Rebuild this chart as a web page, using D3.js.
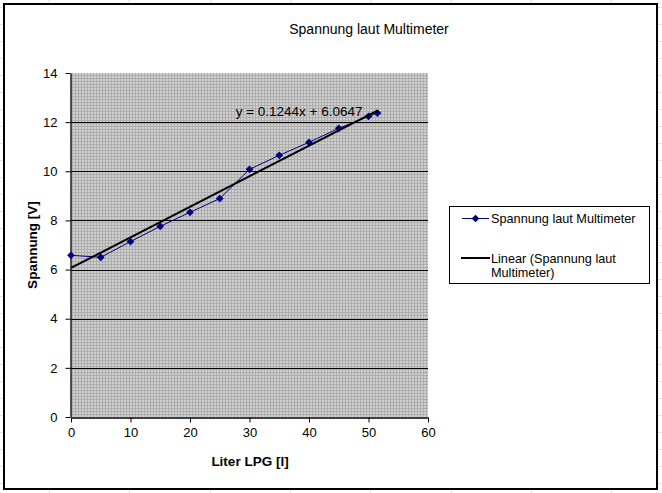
<!DOCTYPE html>
<html>
<head>
<meta charset="utf-8">
<script src="https://cdn.jsdelivr.net/npm/d3@7"></script>
<style>
  html, body { margin: 0; padding: 0; background: #fff; }
  svg { display: block; font-family: "Liberation Sans", Arial, sans-serif; }
</style>
</head>
<body>
<svg id="chart" width="662" height="493"></svg>
<script>
// measured values
const liters = [0, 5, 10, 15, 20, 25, 30, 35, 40, 45, 50, 51.5];
const voltage = [6.58, 6.50, 7.14, 7.76, 8.33, 8.89, 10.08, 10.65, 11.18, 11.75, 12.23, 12.37];

// linear trendline (as reported by the spreadsheet)
const trendSlope = 0.1244;
const trendIntercept = 6.0647;

const xTicks = [0, 10, 20, 30, 40, 50, 60];
const yTicks = [0, 2, 4, 6, 8, 10, 12, 14];
const gridValues = [2, 4, 6, 8, 10, 12];

const seriesName = "Spannung laut Multimeter";
const trendNameLines = ["Linear (Spannung laut", "Multimeter)"];

const width = 662;
const height = 493;
const plot = { left: 71, right: 428, top: 73, bottom: 417 };

const svg = d3.select("#chart");

// spreadsheet cell grid behind the chart object
const sheet = svg.append("g").attr("stroke", "#e3e3e3").attr("stroke-width", 1);
d3.range(49, width, 80.3).forEach(x => {
  sheet.append("line").attr("x1", Math.round(x) + 0.5).attr("x2", Math.round(x) + 0.5)
    .attr("y1", 0).attr("y2", height);
});
d3.range(7, height, 17).forEach(y => {
  sheet.append("line").attr("x1", 0).attr("x2", width)
    .attr("y1", Math.round(y) + 0.5).attr("y2", Math.round(y) + 0.5);
});

// chart area
svg.append("rect")
  .attr("x", 4).attr("y", 4)
  .attr("width", 653).attr("height", 485)
  .attr("fill", "#fff")
  .attr("stroke", "#000")
  .attr("stroke-width", 2);

// dotted gray plot background
const defs = svg.append("defs");
const pattern = defs.append("pattern")
  .attr("id", "dots")
  .attr("patternUnits", "userSpaceOnUse")
  .attr("width", 3)
  .attr("height", 3);
pattern.append("rect").attr("width", 3).attr("height", 3).attr("fill", "#d0d0d0");
pattern.append("rect").attr("width", 3).attr("height", 1).attr("fill", "#adadad");
pattern.append("rect").attr("width", 1).attr("height", 3).attr("fill", "#adadad");

const x = d3.scaleLinear().domain([0, 60]).range([plot.left, plot.right]);
const y = d3.scaleLinear().domain([0, 14]).range([plot.bottom, plot.top]);

svg.append("rect")
  .attr("x", plot.left).attr("y", plot.top)
  .attr("width", plot.right - plot.left)
  .attr("height", plot.bottom - plot.top)
  .attr("fill", "url(#dots)");

// gridlines
svg.append("g")
  .selectAll("line")
  .data(gridValues)
  .enter()
  .append("line")
  .attr("x1", plot.left).attr("x2", plot.right)
  .attr("y1", d => Math.round(y(d)) + 0.5)
  .attr("y2", d => Math.round(y(d)) + 0.5)
  .attr("stroke", "#000")
  .attr("stroke-width", 1);

// axes
const xAxis = svg.append("g")
  .attr("transform", `translate(0,${plot.bottom + 0.5})`)
  .call(d3.axisBottom(x).tickValues(xTicks).tickSize(5).tickSizeOuter(0).tickPadding(5));
const yAxis = svg.append("g")
  .attr("transform", `translate(${plot.left - 0.5},0)`)
  .call(d3.axisLeft(y).tickValues(yTicks).tickSize(5).tickSizeOuter(0).tickPadding(8));

[xAxis, yAxis].forEach(ax => {
  ax.select(".domain").attr("stroke", "#000").attr("stroke-width", 1.3);
  ax.selectAll(".tick line").attr("stroke", "#000");
  ax.selectAll("text")
    .attr("font-family", "'Liberation Sans', Arial, sans-serif")
    .attr("font-size", 13)
    .attr("fill", "#000");
});

// data series
const lineGen = d3.line().x(d => x(d[0])).y(d => y(d[1]));
const points = liters.map((l, i) => [l, voltage[i]]);

svg.append("path")
  .datum(points)
  .attr("d", lineGen)
  .attr("fill", "none")
  .attr("stroke", "#000080")
  .attr("stroke-width", 1);

// diamond = square turned by 45 degrees
const marker = d3.symbol().type(d3.symbolSquare).size(30);

svg.append("g")
  .selectAll("path")
  .data(points)
  .enter()
  .append("path")
  .attr("d", marker)
  .attr("transform", d => `translate(${x(d[0])},${y(d[1])}) rotate(45)`)
  .attr("fill", "#000080");

// trendline
const xMax = d3.max(liters);
const trend = [0, xMax].map(v => [v, trendSlope * v + trendIntercept]);

svg.append("path")
  .datum(trend)
  .attr("d", lineGen)
  .attr("fill", "none")
  .attr("stroke", "#000")
  .attr("stroke-width", 2);

svg.append("text")
  .attr("x", x(49))
  .attr("y", y(12.25))
  .attr("text-anchor", "end")
  .attr("font-size", 13.5)
  .text(`y = ${trendSlope}x + ${trendIntercept}`);

// titles
svg.append("text")
  .attr("x", 369)
  .attr("y", 34)
  .attr("text-anchor", "middle")
  .attr("font-size", 14)
  .text(seriesName);

svg.append("text")
  .attr("x", 250)
  .attr("y", 466)
  .attr("text-anchor", "middle")
  .attr("font-size", 13.5)
  .attr("font-weight", "bold")
  .text("Liter LPG [l]");

svg.append("text")
  .attr("transform", "translate(37,245) rotate(-90)")
  .attr("text-anchor", "middle")
  .attr("font-size", 13.5)
  .attr("font-weight", "bold")
  .text("Spannung [V]");

// legend
const legend = svg.append("g");
legend.append("rect")
  .attr("x", 449.5).attr("y", 206.5)
  .attr("width", 200).attr("height", 77)
  .attr("fill", "#fff")
  .attr("stroke", "#000")
  .attr("stroke-width", 1);

legend.append("line")
  .attr("x1", 462).attr("x2", 489)
  .attr("y1", 218.5).attr("y2", 218.5)
  .attr("stroke", "#000080");
legend.append("path")
  .attr("d", marker)
  .attr("transform", "translate(475.5,218.5) rotate(45)")
  .attr("fill", "#000080");
legend.append("text")
  .attr("x", 491).attr("y", 223)
  .attr("font-size", 12.7)
  .text(seriesName);

legend.append("line")
  .attr("x1", 461).attr("x2", 490)
  .attr("y1", 258).attr("y2", 258)
  .attr("stroke", "#000")
  .attr("stroke-width", 2);
legend.selectAll("text.trend")
  .data(trendNameLines)
  .enter()
  .append("text")
  .attr("class", "trend")
  .attr("x", 491)
  .attr("y", (d, i) => 263 + i * 14)
  .attr("font-size", 12.7)
  .text(d => d);
</script>
</body>
</html>
